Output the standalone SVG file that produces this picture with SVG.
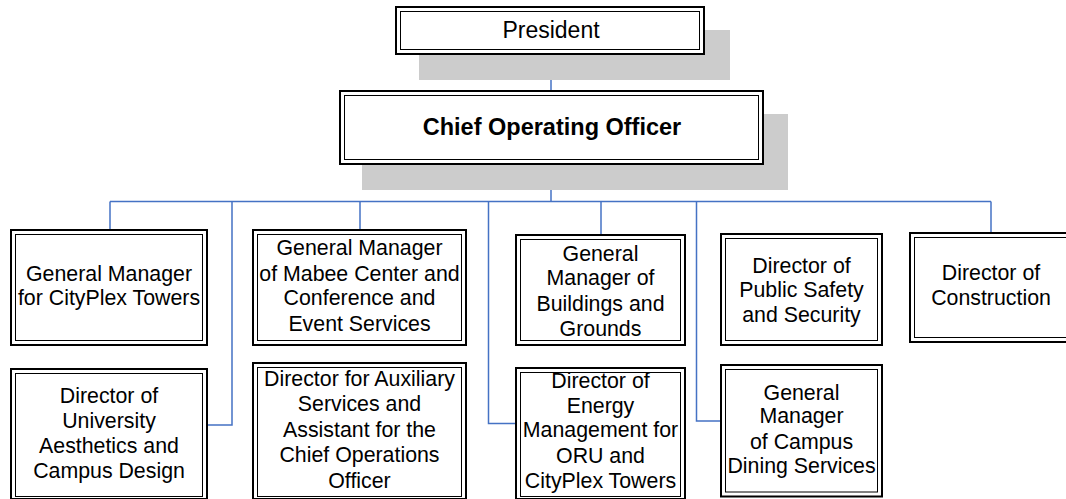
<svg xmlns="http://www.w3.org/2000/svg" width="1066" height="499" viewBox="0 0 1066 499">
<style>
.bg{fill:#ffffff}
.shadow{fill:#cccccc}
.outer{fill:#ffffff;stroke:#000000;stroke-width:2}
.inner{fill:none;stroke:#000000;stroke-width:1}
.t{font-family:"Liberation Sans",Arial,sans-serif;font-size:21.33px;fill:#000000;text-anchor:middle}
.big{font-size:23px}
.bold{font-weight:bold;font-size:23.5px}
.conn{fill:none;stroke:#4472C4;stroke-width:1.5}
</style>
<rect class="bg" x="0" y="0" width="1066" height="499"/>
<g id="connectors">
<path class="conn" d="M551 55 V90"/>
<path class="conn" d="M551 165 V201.5"/>
<path class="conn" d="M110 201.5 H991"/>
<path class="conn" d="M110 201.5 V229"/>
<path class="conn" d="M232 201.5 V425 H208"/>
<path class="conn" d="M360 201.5 V229"/>
<path class="conn" d="M488.5 201.5 V423.5 H515"/>
<path class="conn" d="M601 201.5 V234"/>
<path class="conn" d="M696.5 201.5 V421 H720"/>
<path class="conn" d="M991 201.5 V232"/>
</g>
<g id="president">
<rect class="shadow" x="419" y="30" width="311" height="50"/>
<rect class="outer" x="396" y="7" width="308" height="47"/>
<rect class="inner" x="400.5" y="11.5" width="299" height="38"/>
<text class="t big" x="551" y="37.5">President</text>
</g>
<g id="coo">
<rect class="shadow" x="362" y="114" width="426" height="76"/>
<rect class="outer" x="340" y="91" width="423" height="73"/>
<rect class="inner" x="344.5" y="95.5" width="414" height="64"/>
<text class="t bold" x="552" y="135">Chief Operating Officer</text>
</g>
<g id="gm-cityplex">
<rect class="outer" x="11" y="230" width="196" height="115"/>
<rect class="inner" x="15.5" y="234.5" width="187" height="106"/>
<text class="t"><tspan x="109" y="280.7">General Manager</tspan><tspan x="109" y="305">for CityPlex Towers</tspan></text>
</g>
<g id="gm-mabee">
<rect class="outer" x="253" y="230" width="213" height="115"/>
<rect class="inner" x="257.5" y="234.5" width="204" height="106"/>
<text class="t"><tspan x="359.5" y="255.3">General Manager</tspan><tspan x="359.5" y="280.7">of Mabee Center and</tspan><tspan x="359.5" y="305">Conference and</tspan><tspan x="359.5" y="330.7">Event Services</tspan></text>
</g>
<g id="gm-buildings">
<rect class="outer" x="516" y="235" width="169" height="110"/>
<rect class="inner" x="520.5" y="239.5" width="160" height="101"/>
<text class="t"><tspan x="600.5" y="260.7">General</tspan><tspan x="600.5" y="285">Manager of</tspan><tspan x="600.5" y="310.7">Buildings and</tspan><tspan x="600.5" y="335.7">Grounds</tspan></text>
</g>
<g id="dir-public-safety">
<rect class="outer" x="721" y="234" width="161" height="111"/>
<rect class="inner" x="725.5" y="238.5" width="152" height="102"/>
<text class="t"><tspan x="801.5" y="272.7">Director of</tspan><tspan x="801.5" y="297.3">Public Safety</tspan><tspan x="801.5" y="322.3">and Security</tspan></text>
</g>
<g id="dir-construction">
<rect class="outer" x="910" y="233" width="162" height="109"/>
<rect class="inner" x="914.5" y="237.5" width="153" height="100"/>
<text class="t"><tspan x="991" y="280">Director of</tspan><tspan x="991" y="305">Construction</tspan></text>
</g>
<g id="dir-aesthetics">
<rect class="outer" x="11" y="369" width="196" height="130"/>
<rect class="inner" x="15.5" y="373.5" width="187" height="123"/>
<text class="t"><tspan x="109" y="403.3">Director of</tspan><tspan x="109" y="428.3">University</tspan><tspan x="109" y="453.3">Aesthetics and</tspan><tspan x="109" y="478.3">Campus Design</tspan></text>
</g>
<g id="dir-auxiliary">
<rect class="outer" x="253" y="363" width="213" height="136"/>
<rect class="inner" x="257.5" y="367.5" width="204" height="129"/>
<text class="t"><tspan x="359.5" y="385.7">Director for Auxiliary</tspan><tspan x="359.5" y="411">Services and</tspan><tspan x="359.5" y="436.7">Assistant for the</tspan><tspan x="359.5" y="461.7">Chief Operations</tspan><tspan x="359.5" y="488.3">Officer</tspan></text>
</g>
<g id="dir-energy">
<rect class="outer" x="516" y="368" width="169" height="131"/>
<rect class="inner" x="520.5" y="372.5" width="160" height="124"/>
<text class="t"><tspan x="600.5" y="388.3">Director of</tspan><tspan x="600.5" y="412.7">Energy</tspan><tspan x="600.5" y="437.3">Management for</tspan><tspan x="600.5" y="463.3">ORU and</tspan><tspan x="600.5" y="488.3">CityPlex Towers</tspan></text>
</g>
<g id="gm-dining">
<rect class="outer" x="721" y="365" width="161" height="131.5"/>
<rect class="inner" x="725.5" y="369.5" width="152" height="122.5"/>
<text class="t"><tspan x="801.5" y="400">General</tspan><tspan x="801.5" y="423.3">Manager</tspan><tspan x="801.5" y="449.3">of Campus</tspan><tspan x="801.5" y="473.3">Dining Services</tspan></text>
</g>
</svg>
